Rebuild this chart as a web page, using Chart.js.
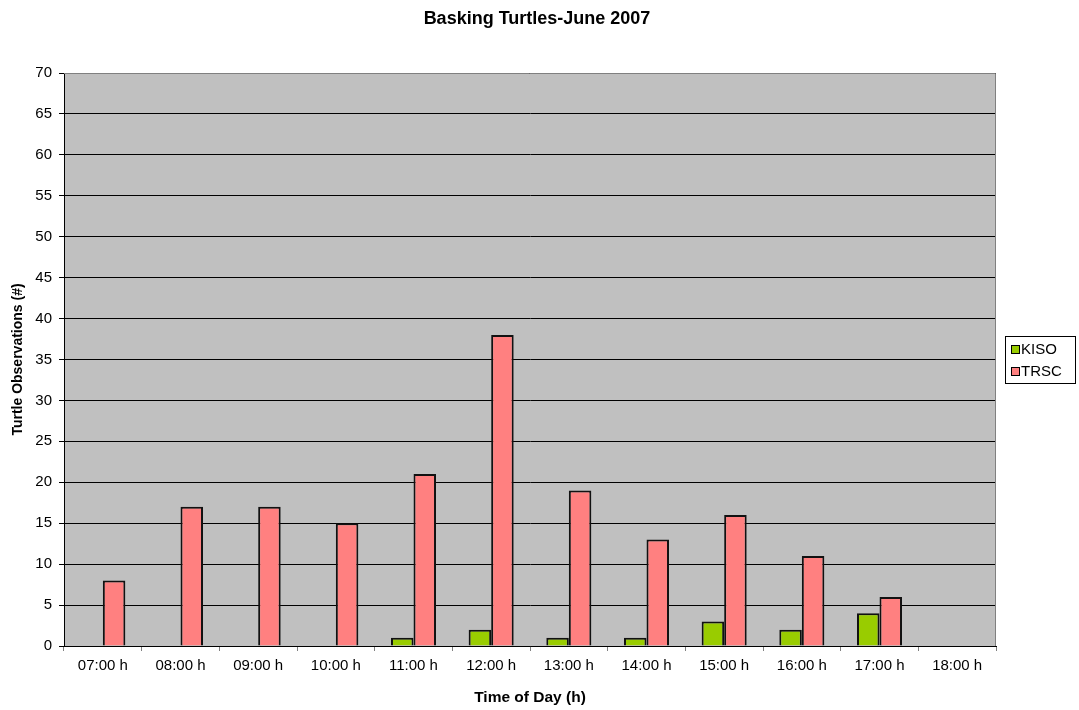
<!DOCTYPE html>
<html>
<head>
<meta charset="utf-8">
<script src="https://cdn.jsdelivr.net/npm/chart.js@4/dist/chart.umd.min.js"></script>
<style>
  body { margin: 0; background: #fff; }
  canvas { display: block; }
</style>
</head>
<body>
<canvas id="myChart" width="1079" height="710"></canvas>
<script>
const hours = ['07:00 h','08:00 h','09:00 h','10:00 h','11:00 h','12:00 h','13:00 h','14:00 h','15:00 h','16:00 h','17:00 h','18:00 h'];
const kiso = [0, 0, 0, 0, 1, 2, 1, 1, 3, 2, 4, 0];
const trsc = [8, 17, 17, 15, 21, 38, 19, 13, 16, 11, 6, 0];
const MIN_VALUE = 0;
const MAX_VALUE = 70;

const FONT = 'Liberation Sans, Arial, sans-serif';

// grey plot background, plot frame, title and boxed legend
const plotDecor = {
  id: 'plotDecor',
  beforeDraw(chart) {
    const {ctx, chartArea: a} = chart;
    ctx.save();
    ctx.fillStyle = '#C0C0C0';
    ctx.fillRect(a.left, a.top, a.right - a.left, a.bottom - a.top);
    ctx.restore();
  },
  afterDraw(chart) {
    const {ctx, chartArea: a} = chart;
    ctx.save();
    ctx.strokeStyle = '#808080';
    ctx.lineWidth = 1;
    ctx.beginPath();
    ctx.moveTo(a.left, a.top + 0.5);
    ctx.lineTo(a.right - 0.5, a.top + 0.5);
    ctx.lineTo(a.right - 0.5, a.bottom);
    ctx.stroke();

    ctx.fillStyle = '#000';
    ctx.font = 'bold 18px ' + FONT;
    ctx.textAlign = 'center';
    ctx.textBaseline = 'middle';
    ctx.fillText('Basking Turtles-June 2007', 537, 19);

    // legend
    const lx = 1005, ly = 336, lw = 70, lh = 47;
    ctx.fillStyle = '#fff';
    ctx.fillRect(lx, ly, lw, lh);
    ctx.strokeStyle = '#000';
    ctx.strokeRect(lx + 0.5, ly + 0.5, lw, lh);
    ctx.font = '15px ' + FONT;
    ctx.textAlign = 'left';
    chart.data.datasets.forEach((ds, i) => {
      const y = ly + 13 + i * 22;
      ctx.fillStyle = ds.backgroundColor;
      ctx.fillRect(lx + 6, y - 4, 9, 9);
      ctx.strokeStyle = '#000';
      ctx.strokeRect(lx + 6.5, y - 3.5, 8, 8);
      ctx.fillStyle = '#000';
      ctx.fillText(ds.label, lx + 16, y + 1);
    });
    ctx.restore();
  }
};

const ctxt = document.getElementById('myChart').getContext('2d');

const myChart = new Chart(ctxt, {
  type: 'bar',
  data: {
    labels: hours,
    datasets: [
      { label: 'KISO', data: kiso, backgroundColor: '#99CC00', borderColor: '#111', borderWidth: 2 },
      { label: 'TRSC', data: trsc, backgroundColor: '#FF8080', borderColor: '#111', borderWidth: 2 }
    ]
  },
  options: {
    responsive: false,
    animation: false,
    datasets: { bar: { categoryPercentage: 0.58, barPercentage: 1 } },
    layout: { padding: { top: 73, left: 0, right: 83, bottom: 0 } },
    plugins: {
      legend: { display: false },
      title: { display: false },
      tooltip: { enabled: false }
    },
    scales: {
      x: {
        afterFit: (s) => { s.height = 64; },
        border: { color: '#000' },
        grid: { drawOnChartArea: false, tickLength: 5, color: '#808080' },
        ticks: { color: '#000', font: { family: FONT, size: 15 }, padding: 6, maxRotation: 0 },
        title: { display: true, text: 'Time of Day (h)', color: '#000',
                 font: { family: FONT, size: 15.5, weight: 'bold' }, padding: { bottom: 3 } }
      },
      y: {
        min: MIN_VALUE,
        max: MAX_VALUE,
        afterFit: (s) => { s.width = 64; },
        border: { color: '#000' },
        grid: { color: '#000', tickLength: 5 },
        ticks: { stepSize: 5, color: '#000', font: { family: FONT, size: 15 }, padding: 7 },
        title: { display: true, text: 'Turtle Observations (#)', color: '#000',
                 font: { family: FONT, size: 14, weight: 'bold' }, padding: { top: 10 } }
      }
    }
  },
  plugins: [plotDecor]
});
</script>
</body>
</html>
